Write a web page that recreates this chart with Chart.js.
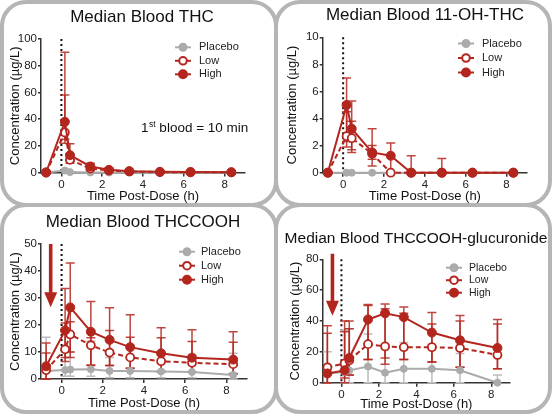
<!DOCTYPE html>
<html lang="en">
<head>
<meta charset="UTF-8">
<title>Median Blood Cannabinoids</title>
<style>
    body { margin: 0; background: #fff; }
    #wrap { position: relative; width: 552px; height: 414px; overflow: hidden; }
    canvas { position: absolute; }
    .box {
        position: absolute;
        box-sizing: border-box;
        border: 4px solid #b5b5b5;
        border-radius: 26px;
        pointer-events: none;
    }
</style>
</head>
<body>
<div id="wrap">
    <canvas id="thcChart" width="276" height="207" style="left:0;top:0"></canvas>
    <canvas id="ohChart" width="276" height="207" style="left:276px;top:0"></canvas>
    <canvas id="coohChart" width="276" height="207" style="left:0;top:207px"></canvas>
    <canvas id="glucChart" width="276" height="207" style="left:276px;top:207px"></canvas>
    <div class="box" style="left:0;top:0;width:278px;height:207px"></div>
    <div class="box" style="left:274px;top:0;width:278px;height:207px"></div>
    <div class="box" style="left:0;top:203px;width:278px;height:211px"></div>
    <div class="box" style="left:274px;top:203px;width:278px;height:211px"></div>
</div>

<script src="https://cdn.jsdelivr.net/npm/chart.js"></script>
<script>
    // sampling times (h after dose)
    const times = [-0.75, 0.17, 0.42, 1.42, 2.33, 3.33, 4.83, 6.33, 8.33];
    const xTicks = [0, 2, 4, 6, 8];

    // THC
    const thcPlacebo = [0, 1.5, 0.3, 0, 0, 0, 0, 0, 0];
    const thcLow = [0, 30, 9.5, 3, 1.5, 0.8, 0.3, 0.2, 0.1];
    const thcHigh = [0, 38, 13, 4.5, 2, 1, 0.5, 0.3, 0.2];
    const thcLowLo = [0, 22, 7, 1.5, 0.8, 0.4, 0.1, 0, 0];
    const thcLowHi = [0, 58, 14, 5, 2.5, 1.5, 0.8, 0.5, 0.3];
    const thcHighLo = [0, 25, 9, 2, 1, 0.5, 0.2, 0.1, 0];
    const thcHighHi = [0, 90, 21.5, 7, 3.5, 2, 1, 0.6, 0.4];

    // 11-OH-THC
    const ohPlacebo = [0, 0, 0, 0, 0, 0, 0, 0, 0];
    const ohLow = [0, 2.7, 2.55, 1.4, 0, 0, 0, 0, 0];
    const ohHigh = [0, 5.0, 3.25, 1.5, 1.25, 0, 0, 0, 0];
    const ohLowLo = [0, 1.9, 1.5, 1.0, 0, 0, 0, 0, 0];
    const ohLowHi = [0, 4.5, 3.8, 2.0, 0, 0, 0, 0, 0];
    const ohHighLo = [0, 2.3, 1.7, 0.5, 0, 0, 0, 0, 0];
    const ohHighHi = [0, 7.0, 5.3, 3.25, 2.2, 1.25, 1.05, 0, 0];

    // THCCOOH
    const coohPlacebo = [3, 3.3, 3.5, 3.6, 3, 3, 2.8, 2.6, 1.5];
    const coohLow = [3.3, 11, 16.5, 12.5, 9.8, 8, 6.6, 6, 5.5];
    const coohHigh = [4.7, 18, 26.5, 17.5, 14.5, 11.8, 9.5, 7.9, 7.2];
    const coohPlaceboLo = [0, 1, 1, 1, 0.5, 0.5, 0.5, 0.5, 0];
    const coohPlaceboHi = [15.5, 10, 10, 14, 8, 8, 7, 9, 9.5];
    const coohLowLo = [0, 6.5, 8, 5.2, 5, 4, 2.5, 2.5, 1.8];
    const coohLowHi = [9.6, 20.7, 21.2, 15.3, 18, 15.5, 15.3, 13.9, 13.6];
    const coohHighLo = [0, 8, 10, 5, 5, 4, 3, 2.5, 2];
    const coohHighHi = [13.3, 33.5, 43, 28.7, 26.4, 23.8, 19, 18.2, 17.5];

    // THCCOOH-glucuronide
    const glucPlacebo = [6, 7, 8, 10.5, 6.5, 9, 9, 8, 0];
    const glucLow = [10, 12.5, 14.5, 25, 23.5, 23, 23, 22.5, 18];
    const glucHigh = [6, 8, 16, 41, 45, 42.5, 32.5, 27.5, 22.5];
    const glucPlaceboLo = [0, 0, 0, 0, 0, 0, 0, 0, 0];
    const glucPlaceboHi = [20, 34, 35, 31.5, 25, 26, 25, 19, 5];
    const glucLowLo = [0, 3, 5, 15, 12, 15, 13.5, 10, 9];
    const glucLowHi = [37, 33, 35, 50, 48, 45, 38, 40, 38];
    const glucHighLo = [0, 0, 5, 15, 16, 15, 13.5, 10, 9];
    const glucHighHi = [32, 40, 40, 50.7, 51, 49, 45.5, 43.5, 41];

    const RED = '#b3261e';
    const RED_ERR = 'rgba(180, 38, 30, 0.85)';
    const GREY = '#ababab';
    const FONT = '"Liberation Sans", Arial, sans-serif';

    Chart.defaults.font.family = FONT;
    Chart.defaults.color = '#222';

    function pts(values) {
        return values.map((v, i) => ({x: times[i], y: v}));
    }

    // error bars, dotted dose line and red arrow go under the markers
    const underlay = {
        id: 'underlay',
        beforeDatasetsDraw(chart, args, opts) {
            const {ctx, scales: {x, y}} = chart;
            ctx.save();
            // dose line
            ctx.strokeStyle = '#111';
            ctx.lineWidth = 2;
            ctx.setLineDash([2, 3]);
            ctx.beginPath();
            ctx.moveTo(x.getPixelForValue(0), y.getPixelForValue(y.max));
            ctx.lineTo(x.getPixelForValue(0), y.getPixelForValue(0));
            ctx.stroke();
            ctx.setLineDash([]);

            // error bars, placebo first so the red ones sit on top
            [...chart.data.datasets].reverse().forEach(ds => {
                if (!ds.errLo) return;
                ctx.strokeStyle = ds.errColor;
                ctx.lineWidth = 1.5;
                times.forEach((t, i) => {
                    const px = x.getPixelForValue(t);
                    const v = ds.values[i];
                    const lo = ds.errLo[i], hi = ds.errHi[i];
                    ctx.beginPath();
                    if (hi > v) {
                        const py = y.getPixelForValue(hi);
                        ctx.moveTo(px, y.getPixelForValue(v));
                        ctx.lineTo(px, py);
                        ctx.moveTo(px - 4.5, py);
                        ctx.lineTo(px + 4.5, py);
                    }
                    if (lo < v) {
                        const py = y.getPixelForValue(lo);
                        ctx.moveTo(px, y.getPixelForValue(v));
                        ctx.lineTo(px, py);
                        ctx.moveTo(px - 4.5, py);
                        ctx.lineTo(px + 4.5, py);
                    }
                    ctx.stroke();
                });
            });

            if (opts.arrow) {
                const a = opts.arrow;
                const ax = x.getPixelForValue(a.x);
                const top = y.getPixelForValue(a.top);
                const tip = y.getPixelForValue(a.tip);
                ctx.fillStyle = RED;
                ctx.fillRect(ax - 1.8, top, 3.6, tip - top - 12);
                ctx.beginPath();
                ctx.moveTo(ax - 6.5, tip - 15);
                ctx.lineTo(ax, tip - 8);
                ctx.lineTo(ax + 6.5, tip - 15);
                ctx.lineTo(ax, tip);
                ctx.closePath();
                ctx.beginPath();
                ctx.moveTo(ax - 6.5, tip - 15);
                ctx.lineTo(ax + 6.5, tip - 15);
                ctx.lineTo(ax, tip);
                ctx.closePath();
                ctx.fill();
            }
            ctx.restore();
        }
    };

    // title, legend and notes
    const overlay = {
        id: 'overlay',
        afterDraw(chart, args, opts) {
            const {ctx} = chart;
            ctx.save();
            ctx.fillStyle = '#111';
            ctx.textAlign = 'center';
            ctx.textBaseline = 'middle';
            ctx.font = opts.titleSize + 'px ' + FONT;
            ctx.fillText(opts.title, opts.titleX, opts.titleY);

            const lg = opts.legend;
            const items = [
                {label: 'Placebo', color: GREY, fill: GREY, r: 3.5},
                {label: 'Low', color: RED, fill: '#fff', r: 3.8},
                {label: 'High', color: RED, fill: RED, r: 4}
            ];
            ctx.font = lg.size + 'px ' + FONT;
            ctx.textAlign = 'left';
            items.forEach((it, i) => {
                const yy = lg.y + i * lg.gap;
                ctx.strokeStyle = it.color;
                ctx.lineWidth = 2;
                ctx.beginPath();
                ctx.moveTo(lg.x - 8, yy);
                ctx.lineTo(lg.x + 8, yy);
                ctx.stroke();
                ctx.beginPath();
                ctx.arc(lg.x, yy, it.r, 0, Math.PI * 2);
                ctx.fillStyle = it.fill;
                ctx.fill();
                ctx.stroke();
                ctx.fillStyle = '#222';
                ctx.fillText(it.label, lg.textX, yy);
            });

            if (opts.note) {
                const n = opts.note;
                ctx.fillStyle = '#111';
                ctx.textBaseline = 'alphabetic';
                ctx.font = '13.5px ' + FONT;
                ctx.fillText('1', n.x, n.y);
                let w = ctx.measureText('1').width;
                ctx.font = '8.5px ' + FONT;
                ctx.fillText('st', n.x + w + 0.5, n.y - 5);
                w += ctx.measureText('st').width + 0.5;
                ctx.font = '13.5px ' + FONT;
                ctx.fillText(' blood = 10 min', n.x + w, n.y);
            }
            ctx.restore();
        }
    };

    function makePanel(id, p) {
        const W = 276, H = 207;
        const datasets = [
            {
                label: 'High', values: p.high, data: pts(p.high),
                errLo: p.highLo, errHi: p.highHi, errColor: RED_ERR,
                borderColor: RED, backgroundColor: RED, pointBackgroundColor: RED,
                pointBorderColor: RED, pointRadius: 4.5, pointBorderWidth: 1,
                borderWidth: 2, order: 0
            },
            {
                label: 'Low', values: p.low, data: pts(p.low),
                errLo: p.lowLo, errHi: p.lowHi, errColor: RED_ERR,
                borderColor: RED, backgroundColor: '#fff', pointBackgroundColor: '#fff',
                pointBorderColor: RED, pointRadius: 4, pointBorderWidth: 1.8,
                borderWidth: 2, borderDash: [5, 3], order: 1
            },
            {
                label: 'Placebo', values: p.placebo, data: pts(p.placebo),
                errLo: p.placeboLo, errHi: p.placeboHi, errColor: '#bdbdbd',
                borderColor: GREY, backgroundColor: GREY, pointBackgroundColor: GREY,
                pointBorderColor: GREY, pointRadius: 3.5, pointBorderWidth: 1,
                borderWidth: 2, order: 2
            }
        ];
        datasets.forEach(ds => { ds.clip = false; ds.tension = 0; });

        new Chart(document.getElementById(id), {
            type: 'line',
            data: {datasets},
            plugins: [underlay, overlay],
            options: {
                responsive: false,
                animation: false,
                layout: {
                    padding: {left: 0, bottom: 0, top: p.area.top, right: W - p.area.right}
                },
                plugins: {
                    legend: {display: false},
                    tooltip: {enabled: false},
                    underlay: {arrow: p.arrow},
                    overlay: {
                        title: p.title, titleX: p.titleX, titleY: p.titleY, titleSize: p.titleSize,
                        legend: p.legend, note: p.note
                    }
                },
                scales: {
                    x: {
                        type: 'linear',
                        min: -1,
                        max: 9,
                        afterBuildTicks: s => { s.ticks = xTicks.map(v => ({value: v})); },
                        afterFit: s => { s.height = H - p.area.bottom; },
                        grid: {display: true, drawOnChartArea: false, drawTicks: true, tickLength: 4, color: '#333', lineWidth: 1.5},
                        border: {color: '#333', width: 1.5},
                        ticks: {font: {size: 11.5}, padding: 1, color: '#222', maxRotation: 0},
                        title: {display: true, text: 'Time Post-Dose (h)', font: {size: 13}, color: '#111', padding: {top: 0, bottom: p.xTitlePad}}
                    },
                    y: {
                        min: 0,
                        max: p.yMax,
                        ticks: {stepSize: p.yStep, font: {size: 11.5}, padding: 1, color: '#222'},
                        afterFit: s => { s.width = p.area.left; },
                        grid: {display: true, drawOnChartArea: false, drawTicks: true, tickLength: 3, color: '#333', lineWidth: 1.5},
                        border: {color: '#333', width: 1.5},
                        title: {display: true, text: 'Concentration (µg/L)', font: {size: 13}, color: '#111', padding: {top: p.yTitlePad, bottom: 0}}
                    }
                }
            }
        });
    }

    makePanel('thcChart', {
        placebo: thcPlacebo, low: thcLow, high: thcHigh,
        placeboLo: null, placeboHi: null,
        lowLo: thcLowLo, lowHi: thcLowHi, highLo: thcHighLo, highHi: thcHighHi,
        yMax: 100, yStep: 20,
        area: {left: 41, right: 245, top: 39, bottom: 172.5},
        title: 'Median Blood THC', titleX: 142, titleY: 17, titleSize: 17,
        legend: {x: 183, textX: 199, y: 47.3, gap: 13.5, size: 11},
        note: {x: 141, y: 131.5},
        xTitlePad: 3, yTitlePad: 8
    });

    makePanel('ohChart', {
        placebo: ohPlacebo, low: ohLow, high: ohHigh,
        placeboLo: null, placeboHi: null,
        lowLo: ohLowLo, lowHi: ohLowHi, highLo: ohHighLo, highHi: ohHighHi,
        yMax: 10, yStep: 2,
        area: {left: 46.7, right: 251, top: 37.3, bottom: 172.7},
        title: 'Median Blood 11-OH-THC', titleX: 149, titleY: 15, titleSize: 17,
        legend: {x: 190, textX: 206, y: 43.5, gap: 14.5, size: 11},
        xTitlePad: 3, yTitlePad: 9
    });

    makePanel('coohChart', {
        placebo: coohPlacebo, low: coohLow, high: coohHigh,
        placeboLo: coohPlaceboLo, placeboHi: coohPlaceboHi,
        lowLo: coohLowLo, lowHi: coohLowHi, highLo: coohHighLo, highHi: coohHighHi,
        yMax: 50, yStep: 10,
        area: {left: 41, right: 247, top: 37, bottom: 172},
        title: 'Median Blood THCCOOH', titleX: 143, titleY: 15, titleSize: 17,
        legend: {x: 187, textX: 201, y: 44.7, gap: 14, size: 11},
        arrow: {x: -0.53, top: 50, tip: 26.6},
        xTitlePad: 3, yTitlePad: 7.5
    });

    makePanel('glucChart', {
        placebo: glucPlacebo, low: glucLow, high: glucHigh,
        placeboLo: glucPlaceboLo, placeboHi: glucPlaceboHi,
        lowLo: glucLowLo, lowHi: glucLowHi, highLo: glucHighLo, highHi: glucHighHi,
        yMax: 80, yStep: 20,
        area: {left: 46.7, right: 234, top: 52.3, bottom: 175.7},
        title: 'Median Blood THCCOOH-glucuronide', titleX: 140, titleY: 32, titleSize: 15.5,
        legend: {x: 178, textX: 193, y: 60.7, gap: 12.5, size: 10.5},
        arrow: {x: -0.48, top: 83.6, tip: 43.4},
        xTitlePad: 2, yTitlePad: 12
    });
</script>
</body>
</html>
